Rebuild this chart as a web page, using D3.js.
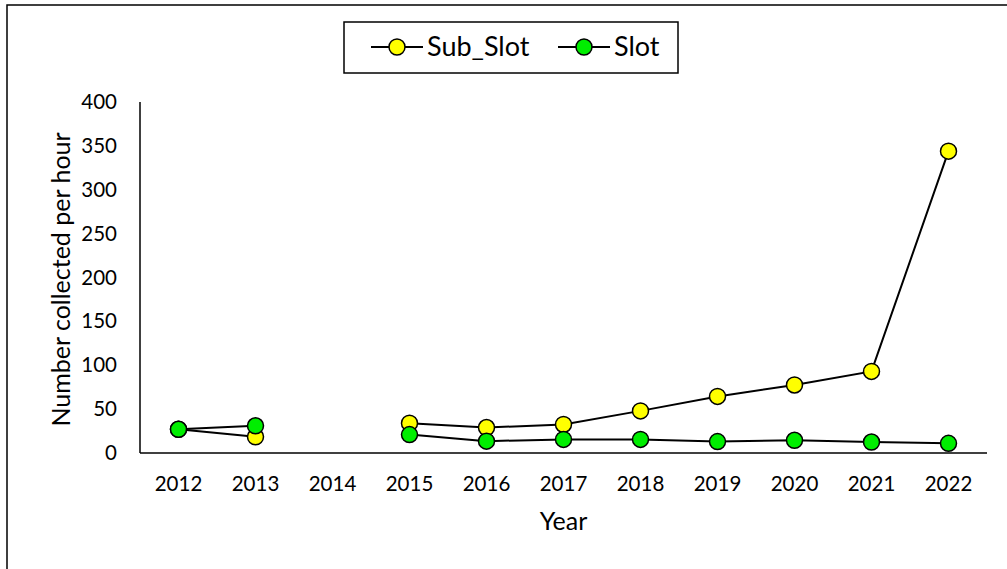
<!DOCTYPE html>
<html>
<head>
<meta charset="utf-8">
<script src="https://cdn.jsdelivr.net/npm/d3@7"></script>
<style>
  body { margin: 0; background: #fff; }
  text { font-family: Lato, "Open Sans", sans-serif; fill: #000; }
</style>
</head>
<body>
<script>
const years = ["2012", "2013", "2014", "2015", "2016", "2017", "2018", "2019", "2020", "2021", "2022"]
// null = no sample that year (gap in line)
const subSlot = [27, 18.5, null, 34, 29, 32.5, 48, 64.5, 77.5, 93, 344]
const slot = [27, 31, null, 21, 13.5, 15.5, 15.5, 13, 14.5, 12.5, 11]
const yTicks = [0, 50, 100, 150, 200, 250, 300, 350, 400]

const W = 1007, H = 569
const margin = {top: 102, right: 20, bottom: 116, left: 140}
const width = 987 - margin.left,
  height = 453 - margin.top

const svg = d3.select('body').append('svg')
  .attr('width', W)
  .attr('height', H)

// outer frame (only left/top edges fall inside the picture)
svg.append('rect')
  .attr('x', 7).attr('y', 5)
  .attr('width', W + 20).attr('height', H + 20)
  .attr('fill', 'none').attr('stroke', '#000').attr('stroke-width', 1.5)

const x = d3.scaleBand()
  .domain(years)
  .range([0, width])

const y = d3.scaleLinear()
  .domain([0, 400])
  .range([height, 0])

const g = svg.append('g').attr('transform', `translate(${margin.left},${margin.top})`)

const axisX = d3.axisBottom(x).tickSize(0).tickPadding(23)
const gx = g.append('g').attr('transform', `translate(0,${height})`).call(axisX)
gx.select('.domain').attr('stroke', '#000').attr('stroke-width', 1.5).attr('d', `M0,0H${width}`)
gx.selectAll('text').attr('font-size', 20.5).attr('font-family', 'Lato')

const axisY = d3.axisLeft(y).tickValues(yTicks).tickSize(0).tickPadding(23)
const gy = g.append('g').call(axisY)
gy.select('.domain').attr('stroke', '#000').attr('stroke-width', 1.5).attr('d', `M0,${height}V0`)
gy.selectAll('text').attr('font-size', 20.5).attr('font-family', 'Lato')

svg.append('text')
  .attr('transform', `translate(70,${margin.top + height / 2 + 2}) rotate(-90)`)
  .attr('text-anchor', 'middle')
  .attr('font-size', 25)
  .text('Number collected per hour')

svg.append('text')
  .attr('x', margin.left + width / 2)
  .attr('y', 530)
  .attr('text-anchor', 'middle')
  .attr('font-size', 25)
  .text('Year')

const cx = d => x(d.year) + x.bandwidth() / 2
const line = d3.line()
  .defined(d => d.v != null)
  .x(cx)
  .y(d => y(d.v))

const series = [
  {name: 'Sub_Slot', color: '#ffff00', values: subSlot},
  {name: 'Slot', color: '#00ee00', values: slot}
]

series.forEach(s => {
  const pts = years.map((yr, i) => ({year: yr, v: s.values[i]}))
  g.append('path')
    .datum(pts)
    .attr('fill', 'none')
    .attr('stroke', '#000')
    .attr('stroke-width', 2)
    .attr('d', line)
})
series.forEach(s => {
  const pts = years.map((yr, i) => ({year: yr, v: s.values[i]})).filter(d => d.v != null)
  g.selectAll(null)
    .data(pts)
    .enter()
    .append('circle')
    .attr('cx', cx)
    .attr('cy', d => y(d.v))
    .attr('r', 8)
    .attr('fill', s.color)
    .attr('stroke', '#000')
    .attr('stroke-width', 1.5)
})

// legend
const lg = svg.append('g')
lg.append('rect')
  .attr('x', 344).attr('y', 22)
  .attr('width', 334).attr('height', 51)
  .attr('fill', '#fff').attr('stroke', '#000').attr('stroke-width', 1.5)
const legendX = [371, 558]
series.forEach((s, i) => {
  const lx = legendX[i]
  lg.append('line')
    .attr('x1', lx).attr('x2', lx + 52)
    .attr('y1', 47).attr('y2', 47)
    .attr('stroke', '#000').attr('stroke-width', 2)
  lg.append('circle')
    .attr('cx', lx + 26).attr('cy', 47).attr('r', 8)
    .attr('fill', s.color).attr('stroke', '#000').attr('stroke-width', 1.5)
  lg.append('text')
    .attr('x', lx + 56).attr('y', 56)
    .attr('font-size', 27)
    .text(s.name)
})
</script>
</body>
</html>
